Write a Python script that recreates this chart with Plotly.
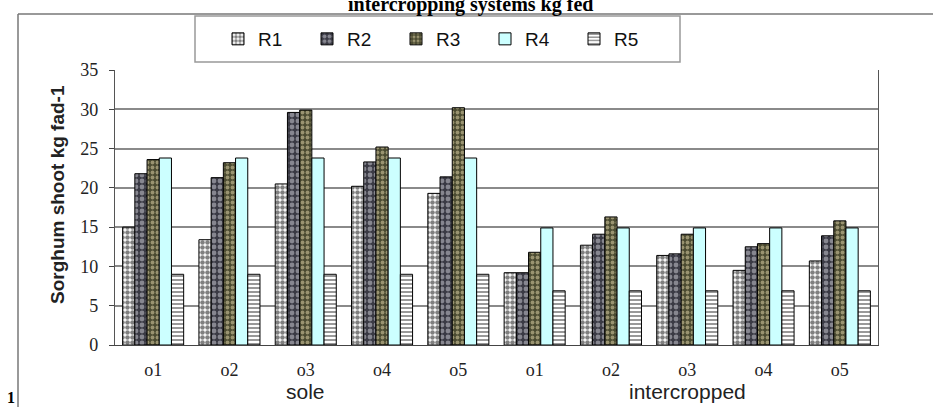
import plotly.graph_objects as go

systems = ["sole", "intercropped"]
treatments = ["o1", "o2", "o3", "o4", "o5"]
series_names = ["R1", "R2", "R3", "R4", "R5"]

R1 = [15.0, 13.4, 20.5, 20.2, 19.3, 9.2, 12.7, 11.4, 9.5, 10.7]
R2 = [21.8, 21.3, 29.6, 23.3, 21.4, 9.2, 14.1, 11.6, 12.5, 13.9]
R3 = [23.6, 23.2, 29.9, 25.2, 30.2, 11.8, 16.3, 14.1, 12.9, 15.8]
R4 = [23.8, 23.8, 23.8, 23.8, 23.8, 14.9, 14.9, 14.9, 14.9, 14.9]
R5 = [9.0, 9.0, 9.0, 9.0, 9.0, 6.9, 6.9, 6.9, 6.9, 6.9]

y_ticks = [0, 5, 10, 15, 20, 25, 30, 35]

tick_text = treatments * len(systems)
n = len(tick_text)
x_pos = list(range(n))
bounds = [i - 0.5 for i in range(n + 1)]

W, H = 933, 407
L, R, T, B = 115, 55, 70, 62
PW, PH = W - L - R, H - T - B


def px_x(p):
    return (p - L) / PW


def px_y(p):
    return 1 - (p - T) / PH


SERIF = "Liberation Serif, Times New Roman, serif"
SANS = "Liberation Sans, Arial, sans-serif"

styles = [
    dict(color="white", pattern=dict(shape=".", fgcolor="black", bgcolor="white", size=5, solidity=0.65)),
    dict(color="#3a3a44", pattern=dict(shape=".", fgcolor="#d4d4dc", bgcolor="#3a3a44", size=6, solidity=0.5)),
    dict(color="#4a4a30", pattern=dict(shape=".", fgcolor="#e8dcb0", bgcolor="#4a4a30", size=5, solidity=0.45)),
    dict(color="#ccffff"),
    dict(color="white", pattern=dict(shape="-", fgcolor="#333333", bgcolor="white", size=4, solidity=0.5)),
]

fig = go.Figure()
for name, vals, st in zip(series_names, [R1, R2, R3, R4, R5], styles):
    marker = dict(line=dict(color="black", width=1))
    marker.update(st)
    fig.add_trace(go.Bar(name=name, x=x_pos, y=vals, marker=marker))

fig.update_layout(
    width=W, height=H,
    margin=dict(l=L, r=R, t=T, b=B, autoexpand=False),
    paper_bgcolor="white", plot_bgcolor="white",
    barmode="group", bargap=0.2, bargroupgap=0,
    showlegend=True,
    legend=dict(
        orientation="h", x=px_x(218), xanchor="left", y=px_y(39), yanchor="middle",
        font=dict(family=SANS, size=19, color="#111"),
        bgcolor="rgba(0,0,0,0)", borderwidth=0,
        entrywidth=44, entrywidthmode="pixels", traceorder="normal",
    ),
    xaxis=dict(
        range=[-0.5, n - 0.5], tickmode="array", tickvals=x_pos, ticktext=tick_text,
        ticks="", showgrid=False, zeroline=False,
        showline=True, linecolor="#444", linewidth=1,
        tickfont=dict(family=SERIF, size=18, color="#222"),
        ticklabelstandoff=8,
    ),
    xaxis2=dict(
        overlaying="x", matches="x", anchor="y", side="bottom",
        range=[-0.5, n - 0.5], tickmode="array", tickvals=bounds,
        ticks="outside", ticklen=5, tickcolor="#444", showticklabels=False,
        showgrid=False, zeroline=False, showline=False,
    ),
    yaxis=dict(
        range=[0, 35], tickmode="array", tickvals=y_ticks,
        ticks="outside", ticklen=5, tickcolor="#444",
        showgrid=True, gridcolor="#8a8a8a", gridwidth=1.5,
        showline=True, linecolor="#555", linewidth=1.2, mirror=True,
        zeroline=False,
        tickfont=dict(family=SERIF, size=18, color="#222"),
        ticklabelstandoff=7,
    ),
)

annotations = [
    dict(text="<b>intercropping systems kg fed</b>", x=px_x(470), y=px_y(4), xref="paper", yref="paper",
         showarrow=False, xanchor="center", yanchor="middle",
         font=dict(family=SERIF, size=20, color="black")),
    dict(text="<b>Sorghum shoot kg fad-1</b>", x=px_x(57), y=px_y(195), xref="paper", yref="paper",
         showarrow=False, textangle=-90, xanchor="center", yanchor="middle",
         font=dict(family=SANS, size=19, color="#222")),
    dict(text="<b>1</b>", x=px_x(11), y=px_y(397), xref="paper", yref="paper",
         showarrow=False, xanchor="center", yanchor="middle",
         font=dict(family=SERIF, size=16, color="black")),
]
for i, s in enumerate(systems):
    center = (i * len(treatments) + (i + 1) * len(treatments) - 1) / 2
    annotations.append(dict(text=s, x=center, xref="x", y=px_y(391), yref="paper",
                            showarrow=False, xanchor="center", yanchor="middle",
                            font=dict(family=SANS, size=21, color="#222")))
fig.update_layout(annotations=annotations)

fig.update_layout(shapes=[
    dict(type="line", xref="paper", yref="paper", x0=px_x(18), x1=px_x(W), y0=px_y(14), y1=px_y(14),
         line=dict(color="#777", width=1.5)),
    dict(type="line", xref="paper", yref="paper", x0=px_x(18), x1=px_x(18), y0=px_y(14), y1=px_y(H),
         line=dict(color="#777", width=1.5)),
    dict(type="rect", xref="paper", yref="paper", x0=px_x(195), x1=px_x(680), y0=px_y(16), y1=px_y(62),
         line=dict(color="#999", width=1.5), fillcolor="rgba(0,0,0,0)", layer="below"),
])

fig.write_html("out.html", config={"displayModeBar": False},
               post_script="document.body.style.margin='0';")
